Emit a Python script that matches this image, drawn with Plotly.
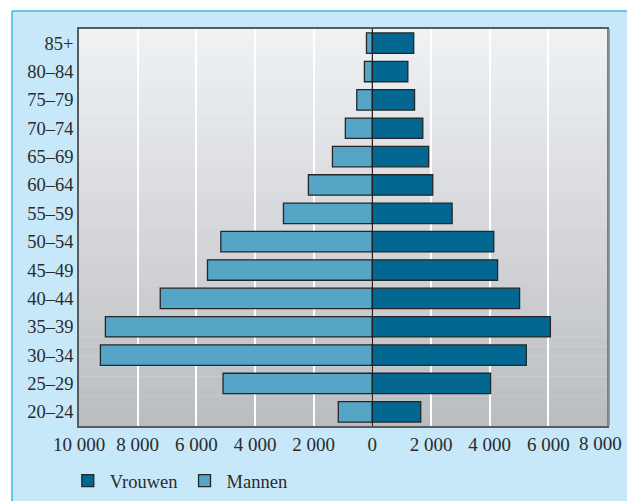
import plotly.graph_objects as go

age_groups = ["20–24", "25–29", "30–34", "35–39", "40–44", "45–49", "50–54",
              "55–59", "60–64", "65–69", "70–74", "75–79", "80–84", "85+"]
vrouwen = [1650, 4030, 5250, 6070, 5020, 4270, 4140, 2720, 2060, 1920, 1720, 1440, 1210, 1410]
mannen = [1160, 5090, 9270, 9100, 7230, 5620, 5165, 3030, 2180, 1360, 920, 530, 270, 200]

tick_vals = [-10000, -8000, -6000, -4000, -2000, 0, 2000, 4000, 6000, 8000]
tick_text = ["10 000", "8 000", "6 000", "4 000", "2 000", "0", "2 000", "4 000", "6 000", "8 000"]

C_VROUW = "#026891"
C_MAN = "#55a5c6"
FONT = "Liberation Serif"
TXT = "#2b2b2b"

fig = go.Figure()
fig.add_trace(go.Bar(y=age_groups, x=vrouwen, orientation="h", name="Vrouwen",
                     marker=dict(color=C_VROUW, line=dict(color="#262626", width=1.3)),
                     width=0.72))
fig.add_trace(go.Bar(y=age_groups, x=[-v for v in mannen], orientation="h", name="Mannen",
                     marker=dict(color=C_MAN, line=dict(color="#262626", width=1.3)),
                     width=0.72))

# plot area in pixels: x 79..607, y 29..426
L, R, T, B = 79, 607, 29, 426
W, H = R - L, B - T
def px(x):
    return (x - L) / W
def py(y):
    return (B - y) / H

shapes = []
# light blue panel
shapes.append(dict(type="rect", xref="paper", yref="paper", x0=px(12), x1=px(640), y0=py(11), y1=py(520),
                   fillcolor="#c6e8f8", line=dict(width=0), layer="below"))
shapes.append(dict(type="line", xref="paper", yref="paper", x0=px(12), x1=px(640), y0=py(11), y1=py(11),
                   line=dict(color="#3fb4e6", width=1.5), layer="below"))
shapes.append(dict(type="line", xref="paper", yref="paper", x0=px(12), x1=px(12), y0=py(11), y1=py(520),
                   line=dict(color="#3fb4e6", width=1.5), layer="below"))
# vertical gradient background of plot area
n = 40
top = (241, 242, 244)
bot = (187, 188, 192)
for i in range(n):
    t = (i + 0.5) / n
    c = tuple(round(top[k] + (bot[k] - top[k]) * t) for k in range(3))
    shapes.append(dict(type="rect", xref="paper", yref="paper", x0=0, x1=1,
                       y0=1 - (i + 1) / n, y1=1 - i / n,
                       fillcolor="rgb(%d,%d,%d)" % c, line=dict(width=0), layer="below"))
# right shadow
shapes.append(dict(type="line", xref="paper", yref="paper", x0=px(608.5), x1=px(608.5), y0=py(426), y1=py(29),
                   line=dict(color="#8a8b8f", width=2.5), layer="above"))
# zero line
shapes.append(dict(type="line", xref="x", yref="paper", x0=0, x1=0, y0=0, y1=1,
                   line=dict(color="#1e1e1e", width=1.3), layer="above"))

# the last x tick label sits against the right edge; place it right-aligned there
shown_text = tick_text[:-1] + [""]
annotations = [dict(x=tick_vals[-1], xref="x", y=0, yref="paper", yanchor="top", yshift=-5,
                    xanchor="right", xshift=17, text=tick_text[-1], showarrow=False,
                    font=dict(family=FONT, size=19, color=TXT))]

fig.update_layout(
    width=627, height=501,
    margin=dict(l=L, r=627 - R, t=T, b=501 - B, autoexpand=False),
    paper_bgcolor="white",
    plot_bgcolor="rgba(0,0,0,0)",
    barmode="overlay",
    bargap=0.28,
    shapes=shapes,
    annotations=annotations,
    font=dict(family=FONT, size=18.5, color=TXT),
    showlegend=True,
    legend=dict(orientation="h", x=-0.025, xanchor="left", y=py(481), yanchor="middle",
                font=dict(family=FONT, size=18.5, color=TXT),
                bgcolor="rgba(0,0,0,0)", itemwidth=34, traceorder="normal"),
    xaxis=dict(range=[-10000, 8000], tickvals=tick_vals, ticktext=shown_text,
               tickfont=dict(family=FONT, size=19, color=TXT),
               showgrid=True, gridcolor="white", gridwidth=1.5, zeroline=False,
               showline=True, linecolor="#5a5b5f", linewidth=1.5, mirror=True,
               ticks="", fixedrange=True, automargin=False, ticklabeloverflow="allow"),
    yaxis=dict(categoryorder="array", categoryarray=age_groups, range=[-0.5, 13.5],
               showgrid=False, zeroline=False, showline=True, linecolor="#5a5b5f",
               linewidth=1.5, mirror=True, ticks="", fixedrange=True, automargin=False,
               ticklabeloverflow="allow"),
)

fig.write_html("out.html", config={"displayModeBar": False},
               post_script="document.body.style.margin='0px';")
